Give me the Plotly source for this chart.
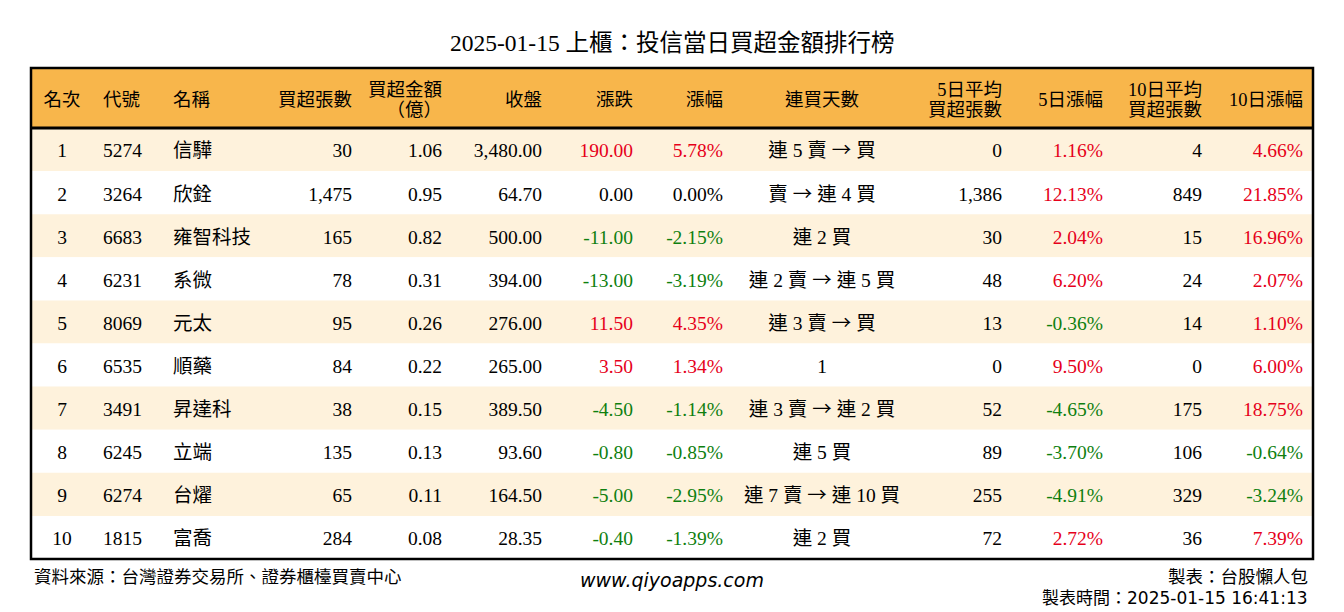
import plotly.graph_objects as go

# ---------------- data ----------------
title = "2025-01-15 上櫃：投信當日買超金額排行榜"
headers = ["名次", "代號", "名稱", "買超張數", "買超金額<br>（億）", "收盤", "漲跌", "漲幅",
           "連買天數", "5日平均<br>買超張數", "5日漲幅", "10日平均<br>買超張數", "10日漲幅"]
ranks = [1, 2, 3, 4, 5, 6, 7, 8, 9, 10]
codes = ["5274", "3264", "6683", "6231", "8069", "6535", "3491", "6245", "6274", "1815"]
names = ["信驊", "欣銓", "雍智科技", "系微", "元太", "順藥", "昇達科", "立端", "台燿", "富喬"]
buy_lots = [30, 1475, 165, 78, 95, 84, 38, 135, 65, 284]
buy_amount = [1.06, 0.95, 0.82, 0.31, 0.26, 0.22, 0.15, 0.13, 0.11, 0.08]
close = [3480.00, 64.70, 500.00, 394.00, 276.00, 265.00, 389.50, 93.60, 164.50, 28.35]
change = [190.00, 0.00, -11.00, -13.00, 11.50, 3.50, -4.50, -0.80, -5.00, -0.40]
change_pct = [5.78, 0.00, -2.15, -3.19, 4.35, 1.34, -1.14, -0.85, -2.95, -1.39]
streak = ["連 5 賣 → 買", "賣 → 連 4 買", "連 2 買", "連 2 賣 → 連 5 買", "連 3 賣 → 買",
          "1", "連 3 賣 → 連 2 買", "連 5 買", "連 7 賣 → 連 10 買", "連 2 買"]
avg5 = [0, 1386, 30, 48, 13, 0, 52, 89, 255, 72]
pct5 = [1.16, 12.13, 2.04, 6.20, -0.36, 9.50, -4.65, -3.70, -4.91, 2.72]
avg10 = [4, 849, 15, 24, 14, 0, 175, 106, 329, 36]
pct10 = [4.66, 21.85, 16.96, 2.07, 1.10, 6.00, 18.75, -0.64, -3.24, 7.39]
source_text = "資料來源：台灣證券交易所、證券櫃檯買賣中心"
site_text = "www.qiyoapps.com"
maker_text = "製表：台股懶人包"
time_text = "製表時間：2025-01-15 16:41:13"

# ---------------- style / layout ----------------
W, H = 1344, 612
LEFT, RIGHT, TOP, HEAD_BOTTOM, BOTTOM = 31, 1313, 68, 128, 559
ROW_H = (BOTTOM - HEAD_BOTTOM) / len(ranks)
TEXT_DY = 3
HEAD_MID = 98.5
LINE_GAP = 20.5
ORANGE = "#F8B64B"
CREAM = "#FEF2DC"
RED = "#E6001A"
GREEN = "#0F7F0F"
FONT = "Liberation Serif, Noto Sans CJK TC, serif"
FOOT = "DejaVu Sans, Noto Sans CJK TC"
FS = 19.5
HFS = 18.5

def sign_color(v):
    if v > 0:
        return RED
    if v < 0:
        return GREEN
    return "black"

def cjk_arrow(s):
    return s.replace("→", '<span style="font-family:Noto Sans CJK TC">→</span>')

# column anchors: (x, textposition)
cols = [
    (62, "middle center"), (103, "middle right"), (173, "middle right"),
    (352, "middle left"), (442, "middle left"), (542, "middle left"),
    (633, "middle left"), (723, "middle left"), (822, "middle center"),
    (1002, "middle left"), (1103, "middle left"), (1202, "middle left"),
    (1303, "middle left"),
]

col_values = [
    [str(r) for r in ranks],
    codes,
    names,
    [f"{v:,}" for v in buy_lots],
    [f"{v:.2f}" for v in buy_amount],
    [f"{v:,.2f}" for v in close],
    [f"{v:.2f}" for v in change],
    [f"{v:.2f}%" for v in change_pct],
    [cjk_arrow(s) for s in streak],
    [f"{v:,}" for v in avg5],
    [f"{v:.2f}%" for v in pct5],
    [f"{v:,}" for v in avg10],
    [f"{v:.2f}%" for v in pct10],
]
black = ["black"] * len(ranks)
col_colors = [
    black, black, black, black, black, black,
    [sign_color(v) for v in change],
    [sign_color(v) for v in change_pct],
    black, black,
    [sign_color(v) for v in pct5],
    black,
    [sign_color(v) for v in pct10],
]

row_y = [HEAD_BOTTOM + ROW_H * (i + 0.5) + TEXT_DY for i in range(len(ranks))]

fig = go.Figure()

shapes = []
shapes.append(dict(type="rect", xref="x", yref="y", x0=LEFT, x1=RIGHT, y0=TOP, y1=HEAD_BOTTOM,
                   fillcolor=ORANGE, line=dict(width=0), layer="below"))
for i in range(len(ranks)):
    shapes.append(dict(type="rect", xref="x", yref="y", x0=LEFT, x1=RIGHT,
                       y0=HEAD_BOTTOM + ROW_H * i, y1=HEAD_BOTTOM + ROW_H * (i + 1),
                       fillcolor=CREAM if i % 2 == 0 else "white", line=dict(width=0), layer="below"))
shapes.append(dict(type="line", xref="x", yref="y", x0=LEFT, x1=RIGHT, y0=HEAD_BOTTOM, y1=HEAD_BOTTOM,
                   line=dict(color="black", width=3)))
shapes.append(dict(type="rect", xref="x", yref="y", x0=LEFT, x1=RIGHT, y0=TOP, y1=BOTTOM,
                   line=dict(color="black", width=2.5), fillcolor="rgba(0,0,0,0)"))

# header texts (each line placed separately for tight line spacing)
for (x, pos), h in zip(cols, headers):
    lines = h.split("<br>")
    n = len(lines)
    ys = [HEAD_MID + TEXT_DY + (k - (n - 1) / 2) * LINE_GAP for k in range(n)]
    fig.add_trace(go.Scatter(
        x=[x] * n, y=ys, mode="text", text=lines, textposition=pos,
        textfont=dict(family=FONT, size=HFS, color="black"), hoverinfo="skip", showlegend=False))

# cell texts
for (x, pos), vals, colors in zip(cols, col_values, col_colors):
    fig.add_trace(go.Scatter(
        x=[x] * len(vals), y=row_y, mode="text", text=vals, textposition=pos,
        textfont=dict(family=FONT, size=FS, color=colors), hoverinfo="skip", showlegend=False))

annotations = [
    dict(text=title, x=W / 2, y=43, xref="x", yref="y", showarrow=False, xanchor="center", yanchor="middle",
         font=dict(family=FONT, size=23.5, color="black")),
    dict(text=source_text, x=32, y=577, xref="x", yref="y", showarrow=False, xanchor="left", yanchor="middle",
         font=dict(family=FOOT, size=17.5, color="black")),
    dict(text="<i>" + site_text + "</i>", x=672, y=580, xref="x", yref="y", showarrow=False,
         xanchor="center", yanchor="middle", font=dict(family="DejaVu Sans", size=19, color="black")),
    dict(text=maker_text, x=1310, y=577, xref="x", yref="y", showarrow=False, xanchor="right", yanchor="middle",
         font=dict(family=FOOT, size=17.5, color="black")),
    dict(text=time_text, x=1310, y=598, xref="x", yref="y", showarrow=False, xanchor="right", yanchor="middle",
         font=dict(family=FOOT, size=17, color="black")),
]

fig.update_layout(
    width=W, height=H, margin=dict(l=0, r=0, t=0, b=0),
    paper_bgcolor="white", plot_bgcolor="white",
    xaxis=dict(range=[0, W], visible=False, fixedrange=True),
    yaxis=dict(range=[H, 0], visible=False, fixedrange=True),
    shapes=shapes, annotations=annotations, showlegend=False,
)

fig.write_html("out.html", config={"displayModeBar": False},
               post_script="document.body.style.margin='0';document.body.style.overflow='hidden';")
